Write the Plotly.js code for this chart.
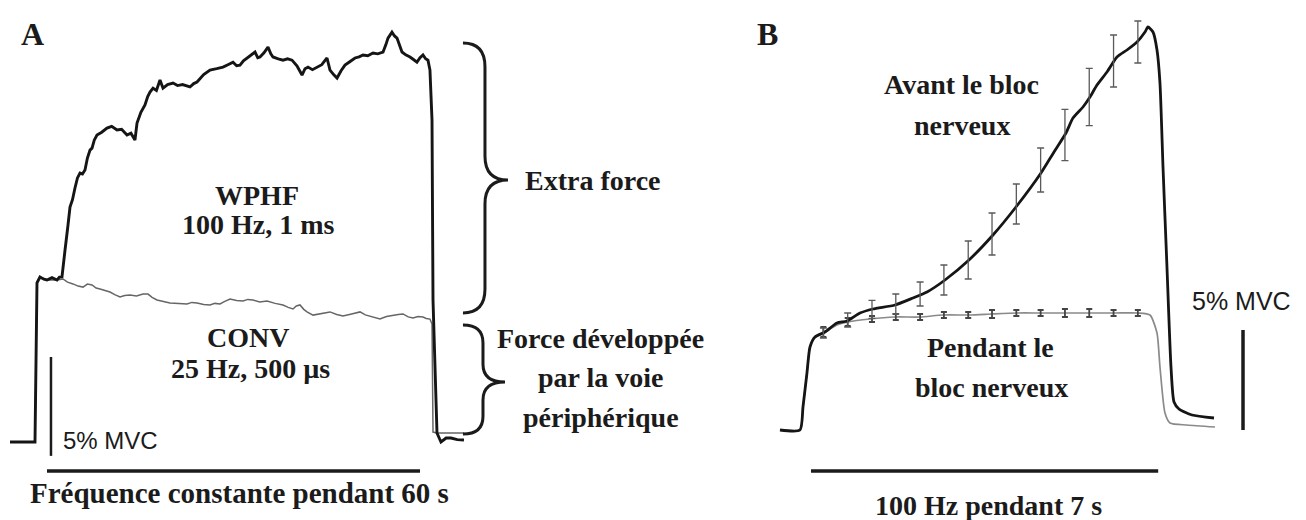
<!DOCTYPE html>
<html>
<head>
<meta charset="utf-8">
<script src="https://cdn.plot.ly/plotly-3.0.1.min.js"></script>
<style>html,body{margin:0;padding:0;background:#fff;}#chart{width:1306px;height:520px;}</style>
</head>
<body>
<div id="chart"></div>
<script>
// ---------- Panel A : force (% MVC) vs time (s) ----------
const wphfTime = [-5.95,-1.93,-1.61,-1.13,-0.5,0,0.8,1.61,2.0,2.41,2.90,3.15,3.38,3.70,4.1,4.50,4.9,5.31,5.7,6.11,6.5,6.92,7.24,7.6,8.04,8.8,9.65,10.4,11.26,12.0,12.87,13.5,14.15,14.48,15.1,15.76,16.2,16.57,17.05,17.6,18.18,18.66,19.4,20.27,21.0,21.8,23.0,23.6,24.13,25.2,26.22,27.3,28.31,29.1,29.92,30.5,31.04,31.6,32.17,32.8,33.46,33.9,34.26,34.9,35.55,36.0,36.35,37.2,37.96,38.7,39.41,40.2,41.02,41.5,41.98,42.7,43.43,44.2,45.04,45.52,46.1,46.65,47.3,47.93,48.7,49.54,50.2,50.83,51.6,52.44,53.2,54.05,54.5,54.85,55.49,55.9,56.30,56.7,57.10,57.7,58.39,59.0,59.51,60.0,60.48,60.9,61.28,61.60,61.93,62.09,62.73,63.37,64.2,64.98,66.0,67.07];
const wphfForce = [0,0,8.01,8.31,8.2,8.16,8.28,8.16,8.3,8.31,9.67,10.5,10.93,11.83,12.2,12.79,13.3,13.54,13.5,13.70,14.3,14.70,14.80,15.2,15.46,15.6,15.81,15.9,15.71,15.75,15.46,15.55,15.21,16.06,16.6,16.97,17.4,17.62,17.82,17.7,18.23,17.82,18.0,18.08,17.95,18.0,17.88,18.05,18.13,18.5,18.73,18.8,18.88,19.0,19.13,18.95,18.98,19.2,19.34,19.45,19.64,19.35,19.39,19.6,19.89,19.55,19.39,19.3,19.23,19.3,19.23,18.95,18.48,18.8,18.88,18.75,18.88,19.0,19.34,18.73,18.5,18.33,18.7,18.98,19.15,19.34,19.4,19.49,19.45,19.59,19.55,19.64,20.0,20.34,20.64,20.45,20.34,19.95,19.64,19.5,19.39,19.25,19.13,19.35,19.49,19.3,19.23,18.73,16.21,7.15,0.45,0.0,0.2,0.20,0.12,0.10];

const convTime = [-5.95,-1.93,-1.61,-1.13,0,1.61,2.57,3.3,4.18,5.0,5.79,6.5,7.24,7.9,8.53,9.3,10.13,10.9,11.74,12.5,13.35,14.4,15.44,16.25,16.9,17.69,18.7,19.78,21.2,22.52,23.3,24.13,25.2,26.22,27.0,27.83,28.6,29.44,30.5,31.53,32.3,33.13,34.2,35.39,36.7,37.96,38.8,39.57,40.1,40.69,41.3,41.82,42.79,44.1,45.52,46.6,47.61,49.0,50.35,51.2,51.95,52.8,53.56,54.6,55.65,56.5,57.26,58.1,58.87,59.7,60.48,61.0,61.60,61.93,62.09,62.73,65.0,67.07];
const convForce = [0,0,8.06,8.31,8.16,8.16,8.21,8.05,7.96,7.85,7.80,7.95,7.91,7.75,7.70,7.62,7.55,7.42,7.30,7.38,7.40,7.35,7.45,7.45,7.28,7.15,7.08,7.00,6.98,6.95,7.03,7.00,6.92,6.90,6.98,6.95,7.08,7.20,7.12,7.10,7.18,7.15,7.05,7.10,6.98,6.90,6.78,6.70,6.85,6.90,6.68,6.55,6.39,6.48,6.55,6.42,6.34,6.45,6.55,6.40,6.34,6.25,6.19,6.32,6.39,6.42,6.45,6.30,6.24,6.32,6.29,6.22,6.19,5.94,0.50,0.45,0.45,0.45];

// ---------- Panel B : force (% MVC) vs time (s) ----------
const avantTime = [-0.625,-0.222,-0.161,-0.081,-0.02,0.081,0.282,0.524,0.726,0.988,1.25,1.694,2.056,2.339,2.702,3.185,3.669,4.133,4.637,4.899,5.141,5.282,5.484,5.625,5.766,5.968,6.169,6.371,6.573,6.734,6.794,6.895,6.976,7.036,7.097,7.177,7.258,7.319,7.419,7.681,8.125];
const avantForce = [0,0,1.15,2.85,4.15,4.65,4.9,5.35,5.45,5.85,6.05,6.25,6.6,6.9,7.5,8.5,9.75,11.15,12.85,13.9,14.85,15.6,16.15,16.65,17.25,17.9,18.65,19.0,19.4,19.9,20.15,19.9,19.0,17.35,13.15,8.15,3.15,1.4,1.05,0.75,0.6];

const pendantTime = [-0.625,-0.222,-0.161,-0.081,-0.02,0.081,0.282,0.524,0.746,1.19,1.694,2.198,2.661,3.206,3.649,4.153,4.617,5.121,5.625,6.129,6.593,6.835,6.976,7.036,7.137,7.238,7.581,8.145];
const pendantForce = [0,0,1.15,2.85,4.15,4.65,4.9,5.25,5.4,5.55,5.65,5.65,5.75,5.75,5.8,5.85,5.85,5.85,5.85,5.85,5.85,5.75,4.85,3.15,0.85,0.35,0.25,0.15];

const errTimes = [0.25,0.74,1.23,1.71,2.2,2.68,3.17,3.65,4.14,4.63,5.12,5.61,6.1,6.59];
const avantMean = [4.85,5.5,6.03,6.3,6.8,7.5,8.5,9.8,11.3,13.0,14.75,16.65,18.45,19.4];
const avantErr  = [0.25,0.35,0.45,0.5,0.6,0.75,0.95,1.05,1.0,1.1,1.28,1.43,1.3,1.05];
const pendantMean = [4.9,5.4,5.55,5.65,5.65,5.75,5.75,5.8,5.85,5.85,5.85,5.85,5.85,5.85];
const pendantErr  = [0.25,0.2,0.15,0.15,0.15,0.15,0.15,0.2,0.15,0.15,0.2,0.2,0.15,0.15];

// ---------- layout helpers ----------
const W = 1306, H = 520;
const px = x => x / W;
const py = y => 1 - y / H;
const serif = 'Liberation Serif, Times New Roman, serif';
const sans = 'Liberation Sans, Arial, sans-serif';
const ink = '#1b1b1b';

function label(text, x, y, size, family) {
  return {text: text, x: px(x), y: py(y), xref: 'paper', yref: 'paper',
    xanchor: 'center', yanchor: 'middle', showarrow: false,
    font: {family: family || serif, size: size, color: ink}};
}

function brace(xEnd, xSpine, xTip, yTop, yMid, yBot, r) {
  const p = 'M' + xEnd + ',' + yTop +
    ' Q' + xSpine + ',' + yTop + ' ' + xSpine + ',' + (yTop - r) +
    ' L' + xSpine + ',' + (yMid + r) +
    ' Q' + xSpine + ',' + yMid + ' ' + xTip + ',' + yMid +
    ' Q' + xSpine + ',' + yMid + ' ' + xSpine + ',' + (yMid - r) +
    ' L' + xSpine + ',' + (yBot + r) +
    ' Q' + xSpine + ',' + yBot + ' ' + xEnd + ',' + yBot;
  return {type: 'path', xref: 'x', yref: 'y', path: p, line: {color: ink, width: 3}};
}

const traces = [
  {x: convTime, y: convForce, xaxis: 'x', yaxis: 'y', mode: 'lines',
   line: {color: '#666666', width: 1.5}, hoverinfo: 'skip'},
  {x: wphfTime, y: wphfForce, xaxis: 'x', yaxis: 'y', mode: 'lines',
   line: {color: '#151515', width: 2.9}, hoverinfo: 'skip'},
  {x: pendantTime, y: pendantForce, xaxis: 'x2', yaxis: 'y2', mode: 'lines',
   line: {color: '#8a8a8a', width: 1.7, shape: 'spline', smoothing: 0.6}, hoverinfo: 'skip'},
  {x: errTimes, y: pendantMean, xaxis: 'x2', yaxis: 'y2', mode: 'markers',
   marker: {size: 1, color: 'rgba(0,0,0,0)'},
   error_y: {type: 'data', array: pendantErr, visible: true, color: '#444444', thickness: 1.8, width: 3},
   hoverinfo: 'skip'},
  {x: avantTime, y: avantForce, xaxis: 'x2', yaxis: 'y2', mode: 'lines',
   line: {color: '#151515', width: 2.8, shape: 'spline', smoothing: 0.6}, hoverinfo: 'skip'},
  {x: errTimes, y: avantMean, xaxis: 'x2', yaxis: 'y2', mode: 'markers',
   marker: {size: 1, color: 'rgba(0,0,0,0)'},
   error_y: {type: 'data', array: avantErr, visible: true, color: '#5a5a5a', thickness: 1.3, width: 3.5},
   hoverinfo: 'skip'}
];

const hidden = {showgrid: false, zeroline: false, showline: false, showticklabels: false,
  ticks: '', fixedrange: true, autorange: false};

const layout = {
  width: W, height: H,
  margin: {l: 0, r: 0, t: 0, b: 0, pad: 0},
  paper_bgcolor: '#ffffff', plot_bgcolor: 'rgba(0,0,0,0)',
  showlegend: false,
  xaxis: Object.assign({}, hidden, {domain: [0, 740 / W], range: [-7.56, 111.47]}),
  yaxis: Object.assign({}, hidden, {domain: [0, 1], range: [-3.93, 22.26]}),
  xaxis2: Object.assign({}, hidden, {domain: [740 / W, 1], range: [-1.431, 9.980], anchor: 'y2'}),
  yaxis2: Object.assign({}, hidden, {domain: [0, 1], range: [-4.5, 21.5], anchor: 'x2'}),
  shapes: [
    // panel A scale bars
    {type: 'line', xref: 'x', yref: 'y', x0: 0.64, x1: 0.64, y0: -0.70, y1: 4.28, line: {color: ink, width: 2.5}},
    {type: 'line', xref: 'x', yref: 'y', x0: 0, x1: 60, y0: -1.46, y1: -1.46, line: {color: ink, width: 3.5}},
    // panel A braces
    brace(66.91, 70.45, 74.15, 20.09, 13.19, 6.50, 1.2),
    brace(66.91, 70.13, 73.67, 5.89, 3.02, 0.40, 0.9),
    // panel B scale bars
    {type: 'line', xref: 'x2', yref: 'y2', x0: 8.71, x1: 8.71, y0: 0, y1: 5, line: {color: ink, width: 3.5}},
    {type: 'line', xref: 'x2', yref: 'y2', x0: 0, x1: 7, y0: -2.05, y1: -2.05, line: {color: ink, width: 3.5}}
  ],
  annotations: [
    label('<b>A</b>', 32, 34, 32),
    label('<b>WPHF</b>', 257, 195, 28),
    label('<b>100 Hz, 1 ms</b>', 258, 224, 28),
    label('<b>CONV</b>', 248, 337, 28),
    label('<b>25 Hz, 500 µs</b>', 250, 368, 28),
    label('5% MVC', 110, 440, 24, sans),
    label('<b>Fréquence constante pendant 60 s</b>', 239, 493, 29),
    label('<b>Extra force</b>', 593, 180, 28),
    label('<b>Force développée</b>', 600, 338, 28),
    label('<b>par la voie</b>', 600, 377, 28),
    label('<b>périphérique</b>', 601, 417, 28),
    label('<b>B</b>', 767, 34, 32),
    label('<b>Avant le bloc</b>', 961, 85, 28),
    label('<b>nerveux</b>', 962, 125, 28),
    label('<b>Pendant le</b>', 990, 347, 28),
    label('<b>bloc nerveux</b>', 991, 387, 28),
    label('<b>100 Hz pendant 7 s</b>', 989, 505, 28),
    label('5% MVC', 1241, 301, 25, sans)
  ]
};

Plotly.newPlot('chart', traces, layout, {staticPlot: true, displayModeBar: false});
</script>
</body>
</html>
